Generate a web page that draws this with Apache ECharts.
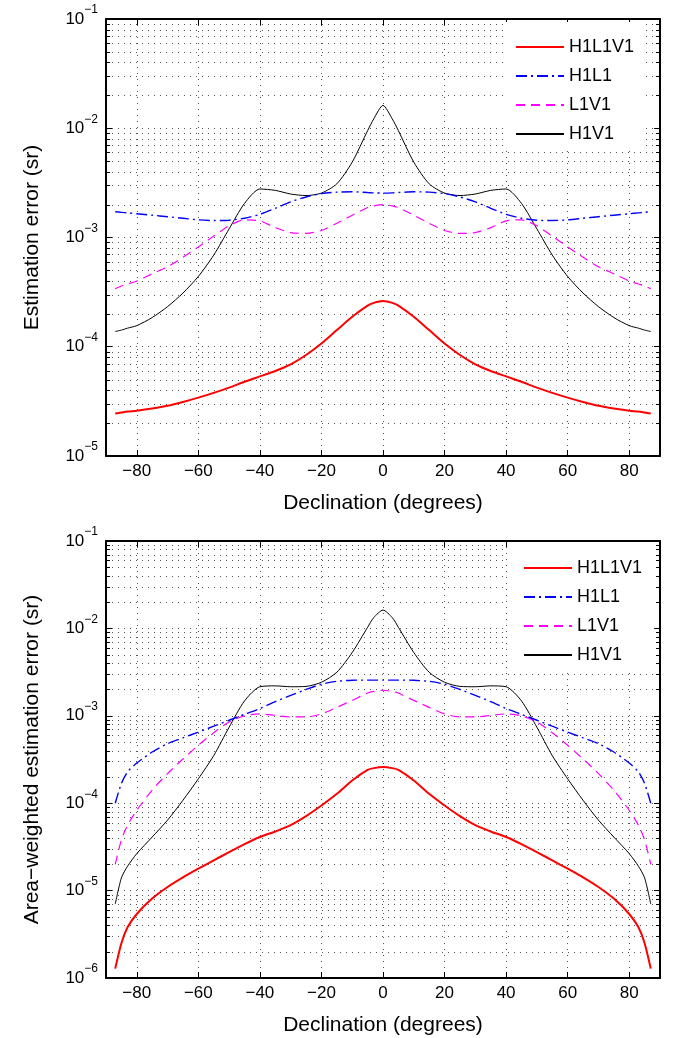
<!DOCTYPE html>
<html>
<head>
<meta charset="utf-8">
<script src="https://cdn.jsdelivr.net/npm/echarts@6/dist/echarts.min.js"></script>
<style>
  html, body { margin: 0; padding: 0; background: #fff; }
  #chart { width: 675px; height: 1038px; }
</style>
</head>
<body>
<div id="chart"></div>
<script>
// Declination samples (degrees)
const declination = [-87, -85, -83, -80, -75, -70, -65, -60, -55, -50, -45, -40, -35, -30, -25, -20, -15, -10, -5, -3, 0,
                     3, 5, 10, 15, 20, 25, 30, 35, 40, 45, 50, 55, 60, 65, 70, 75, 80, 83, 85, 87];

// Estimation error (sr)
const errH1L1V1 = [2.45e-5, 2.5e-5, 2.55e-5, 2.6e-5, 2.72e-5, 2.88e-5, 3.12e-5, 3.42e-5, 3.78e-5, 4.22e-5, 4.78e-5, 5.35e-5, 6.0e-5, 6.9e-5, 8.4e-5, 1.07e-4, 1.42e-4, 1.88e-4, 2.38e-4, 2.52e-4, 2.62e-4,
                   2.52e-4, 2.38e-4, 1.88e-4, 1.42e-4, 1.07e-4, 8.4e-5, 6.9e-5, 6.0e-5, 5.35e-5, 4.78e-5, 4.22e-5, 3.78e-5, 3.42e-5, 3.12e-5, 2.88e-5, 2.72e-5, 2.6e-5, 2.55e-5, 2.5e-5, 2.45e-5];
const errH1L1 = [1.72e-3, 1.7e-3, 1.68e-3, 1.65e-3, 1.6e-3, 1.55e-3, 1.5e-3, 1.45e-3, 1.43e-3, 1.44e-3, 1.5e-3, 1.63e-3, 1.85e-3, 2.12e-3, 2.35e-3, 2.52e-3, 2.6e-3, 2.62e-3, 2.58e-3, 2.56e-3, 2.55e-3,
                 2.56e-3, 2.58e-3, 2.62e-3, 2.6e-3, 2.52e-3, 2.35e-3, 2.12e-3, 1.85e-3, 1.63e-3, 1.5e-3, 1.44e-3, 1.43e-3, 1.45e-3, 1.5e-3, 1.55e-3, 1.6e-3, 1.65e-3, 1.68e-3, 1.7e-3, 1.72e-3];
const errL1V1 = [3.4e-4, 3.6e-4, 3.75e-4, 4.0e-4, 4.65e-4, 5.4e-4, 6.6e-4, 8.2e-4, 1.03e-3, 1.28e-3, 1.45e-3, 1.42e-3, 1.23e-3, 1.11e-3, 1.09e-3, 1.16e-3, 1.35e-3, 1.6e-3, 1.88e-3, 1.95e-3, 2.0e-3,
                 1.95e-3, 1.88e-3, 1.6e-3, 1.35e-3, 1.16e-3, 1.09e-3, 1.11e-3, 1.23e-3, 1.42e-3, 1.45e-3, 1.28e-3, 1.03e-3, 8.2e-4, 6.6e-4, 5.4e-4, 4.65e-4, 4.0e-4, 3.75e-4, 3.6e-4, 3.4e-4];
const errH1V1 = [1.38e-4, 1.42e-4, 1.48e-4, 1.56e-4, 1.85e-4, 2.33e-4, 3.1e-4, 4.4e-4, 6.9e-4, 1.2e-3, 2.05e-3, 2.78e-3, 2.7e-3, 2.5e-3, 2.42e-3, 2.55e-3, 3.1e-3, 4.9e-3, 9.5e-3, 1.22e-2, 1.62e-2,
                 1.22e-2, 9.5e-3, 4.9e-3, 3.1e-3, 2.55e-3, 2.42e-3, 2.5e-3, 2.7e-3, 2.78e-3, 2.05e-3, 1.2e-3, 6.9e-4, 4.4e-4, 3.1e-4, 2.33e-4, 1.85e-4, 1.56e-4, 1.48e-4, 1.42e-4, 1.38e-4];

// Area-weighted estimation error (sr)
const awH1L1V1 = [1.28e-6, 2.5e-6, 3.8e-6, 5.4e-6, 8.1e-6, 1.1e-5, 1.42e-5, 1.78e-5, 2.22e-5, 2.75e-5, 3.4e-5, 4.1e-5, 4.75e-5, 5.6e-5, 7.1e-5, 9.4e-5, 1.28e-4, 1.82e-4, 2.4e-4, 2.52e-4, 2.6e-4,
                  2.52e-4, 2.4e-4, 1.82e-4, 1.28e-4, 9.4e-5, 7.1e-5, 5.6e-5, 4.75e-5, 4.1e-5, 3.4e-5, 2.75e-5, 2.22e-5, 1.78e-5, 1.42e-5, 1.1e-5, 8.1e-6, 5.4e-6, 3.8e-6, 2.5e-6, 1.28e-6];
const awH1L1 = [1.0e-4, 1.68e-4, 2.28e-4, 2.88e-4, 3.85e-4, 4.8e-4, 5.6e-4, 6.5e-4, 7.6e-4, 8.9e-4, 1.04e-3, 1.21e-3, 1.45e-3, 1.71e-3, 2.0e-3, 2.3e-3, 2.48e-3, 2.55e-3, 2.56e-3, 2.56e-3, 2.56e-3,
                2.56e-3, 2.56e-3, 2.55e-3, 2.48e-3, 2.3e-3, 2.0e-3, 1.71e-3, 1.45e-3, 1.21e-3, 1.04e-3, 8.9e-4, 7.6e-4, 6.5e-4, 5.6e-4, 4.8e-4, 3.85e-4, 2.88e-4, 2.28e-4, 1.68e-4, 1.0e-4];
const awL1V1 = [2.0e-5, 3.8e-5, 5.6e-5, 8.3e-5, 1.41e-4, 2.18e-4, 3.2e-4, 4.6e-4, 6.4e-4, 8.5e-4, 1.0e-3, 1.05e-3, 1.01e-3, 9.7e-4, 9.7e-4, 1.05e-3, 1.25e-3, 1.5e-3, 1.82e-3, 1.9e-3, 1.96e-3,
                1.9e-3, 1.82e-3, 1.5e-3, 1.25e-3, 1.05e-3, 9.7e-4, 9.7e-4, 1.01e-3, 1.05e-3, 1.0e-3, 8.5e-4, 6.4e-4, 4.6e-4, 3.2e-4, 2.18e-4, 1.41e-4, 8.3e-5, 5.6e-5, 3.8e-5, 2.0e-5];
const awH1V1 = [7.0e-6, 1.4e-5, 1.9e-5, 2.65e-5, 4.1e-5, 6.4e-5, 1.08e-4, 1.9e-4, 3.5e-4, 7.4e-4, 1.48e-3, 2.15e-3, 2.2e-3, 2.15e-3, 2.17e-3, 2.42e-3, 3.15e-3, 5.3e-3, 1.03e-2, 1.33e-2, 1.62e-2,
                1.33e-2, 1.03e-2, 5.3e-3, 3.15e-3, 2.42e-3, 2.17e-3, 2.15e-3, 2.2e-3, 2.15e-3, 1.48e-3, 7.4e-4, 3.5e-4, 1.9e-4, 1.08e-4, 6.4e-5, 4.1e-5, 2.65e-5, 1.9e-5, 1.4e-5, 7.0e-6];

const seriesNames = ['H1L1V1', 'H1L1', 'L1V1', 'H1V1'];
const xTitle = 'Declination (degrees)';
const yTitles = ['Estimation error (sr)', 'Area\u2212weighted estimation error (sr)'];
const decadeRanges = [[-5, -1], [-6, -1]];
const minorMultipliers = [2, 3, 4, 5, 6, 7, 8, 9];
const xRange = [-90, 90];

const FONT = '"Liberation Sans", Arial, Helvetica, sans-serif';

const lineStyles = {
  H1L1V1: { color: '#ff0000', width: 2, type: 'solid' },
  H1L1:   { color: '#0000ff', width: 1.4, type: [11, 4, 2, 4] },
  L1V1:   { color: '#ff00ff', width: 1.2, type: [9, 6] },
  H1V1:   { color: '#000000', width: 1, type: 'solid' }
};

const grids = [
  { left: 106, top: 19, width: 554, height: 437 },
  { left: 106, top: 541, width: 554, height: 437 }
];

const dotted = { color: '#555', width: 1, type: [1, 5] };
const boxLine = { show: true, onZero: false, lineStyle: { color: '#000', width: 2 } };

function minorValues(range) {
  const out = [];
  for (let e = range[0]; e < range[1]; e++) {
    minorMultipliers.forEach(m => out.push(m * Math.pow(10, e)));
  }
  return out;
}

function expLabel(v) {
  const e = Math.round(Math.log10(v));
  return '{b|10}{s|' + (e < 0 ? '\u2212' + (-e) : e) + '}';
}

const xAxes = [], yAxes = [], series = [];
grids.forEach((g, gi) => {
  const [lo, hi] = decadeRanges[gi];
  // bottom x axis with labels
  xAxes.push({
    type: 'value', gridIndex: gi, position: 'bottom',
    min: xRange[0], max: xRange[1], minInterval: 20, maxInterval: 20, splitNumber: 9,
    axisLine: boxLine,
    axisTick: { inside: true, length: 6, lineStyle: { color: '#000', width: 1 } },
    axisLabel: {
      showMinLabel: false, showMaxLabel: false, margin: 7,
      color: '#000', fontFamily: FONT, fontSize: 17,
      formatter: v => (Math.abs(v) === 90 ? '' : (v < 0 ? '\u2212' + (-v) : String(v)))
    },
    splitLine: { show: true, lineStyle: dotted },
    name: xTitle, nameLocation: 'middle', nameGap: 37,
    nameTextStyle: { color: '#000', fontFamily: FONT, fontSize: 21 }
  });
  // top x axis: box edge with inward ticks
  xAxes.push({
    type: 'value', gridIndex: gi, position: 'top',
    min: xRange[0], max: xRange[1], minInterval: 20, maxInterval: 20, splitNumber: 9,
    axisLine: boxLine,
    axisTick: { inside: true, length: 6, lineStyle: { color: '#000', width: 1 } },
    axisLabel: { show: false }, splitLine: { show: false }
  });
  // left y axis with labels
  yAxes.push({
    type: 'log', logBase: 10, gridIndex: gi, position: 'left',
    min: Math.pow(10, lo), max: Math.pow(10, hi),
    axisLine: boxLine,
    axisTick: { inside: true, length: 6, lineStyle: { color: '#000', width: 1 } },
    axisLabel: {
      margin: 8, formatter: expLabel,
      rich: {
        b: { fontFamily: FONT, fontSize: 17, color: '#000', lineHeight: 30, verticalAlign: 'middle' },
        s: { fontFamily: FONT, fontSize: 12, color: '#000', lineHeight: 12, verticalAlign: 'top' }
      }
    },
    splitLine: { show: true, lineStyle: dotted },
    name: yTitles[gi], nameLocation: 'middle', nameGap: 63, nameRotate: 90,
    nameTextStyle: { color: '#000', fontFamily: FONT, fontSize: 21 }
  });
  // right y axis: box edge with inward ticks
  yAxes.push({
    type: 'log', logBase: 10, gridIndex: gi, position: 'right',
    min: Math.pow(10, lo), max: Math.pow(10, hi),
    axisLine: boxLine,
    axisTick: { inside: true, length: 6, lineStyle: { color: '#000', width: 1 } },
    axisLabel: { show: false }, splitLine: { show: false }
  });

  // minor log gridlines and inward minor ticks on both box edges
  series.push({
    type: 'custom', xAxisIndex: gi * 2, yAxisIndex: gi * 2, silent: true, z: 1,
    clip: false, animation: false,
    data: minorValues(decadeRanges[gi]).map(v => [xRange[0], v]),
    encode: { x: 0, y: 1 },
    renderItem: (params, api) => {
      const v = api.value(1);
      const p0 = api.coord([xRange[0], v]);
      const p1 = api.coord([xRange[1], v]);
      const y = Math.round(p0[1]) + 0.5;
      return {
        type: 'group',
        children: [
          { type: 'line', shape: { x1: p0[0], y1: y, x2: p1[0], y2: y },
            style: { stroke: dotted.color, lineWidth: 1, lineDash: [1, 5] } },
          { type: 'line', shape: { x1: p0[0], y1: y, x2: p0[0] + 4, y2: y },
            style: { stroke: '#000', lineWidth: 1 } },
          { type: 'line', shape: { x1: p1[0] - 4, y1: y, x2: p1[0], y2: y },
            style: { stroke: '#000', lineWidth: 1 } }
        ]
      };
    }
  });

  const sets = gi === 0
    ? [errH1L1V1, errH1L1, errL1V1, errH1V1]
    : [awH1L1V1, awH1L1, awL1V1, awH1V1];
  // H1V1 drawn first so the coloured curves sit on top
  [3, 2, 1, 0].forEach(k => {
    const name = seriesNames[k];
    series.push({
      name, type: 'line', xAxisIndex: gi * 2, yAxisIndex: gi * 2,
      data: declination.map((d, i) => [d, sets[k][i]]),
      symbol: 'none', showSymbol: false,
      smooth: 0.25,
      lineStyle: lineStyles[name], itemStyle: { color: lineStyles[name].color },
      z: 3 + (3 - k), animation: false, silent: true
    });
  });
});

const legendBase = {
  orient: 'vertical', data: seriesNames, backgroundColor: '#fff',
  itemWidth: 48, itemHeight: 14, itemGap: 11, selectedMode: false,
  itemStyle: { opacity: 0, borderWidth: 0 },
  textStyle: { color: '#000', fontFamily: FONT, fontSize: 18, lineHeight: 18 },
  z: 10
};

const option = {
  backgroundColor: '#fff',
  animation: false,
  grid: grids.map(g => Object.assign({ containLabel: false }, g)),
  xAxis: xAxes,
  yAxis: yAxes,
  legend: [
    Object.assign({}, legendBase, { left: 506, top: 22, padding: [16, 9, 7, 9] }),
    Object.assign({}, legendBase, { left: 508, top: 542, padding: [17, 12, 9, 15] })
  ],
  series
};

const chart = echarts.init(document.getElementById('chart'), null, { renderer: 'canvas' });
chart.setOption(option);
</script>
</body>
</html>
